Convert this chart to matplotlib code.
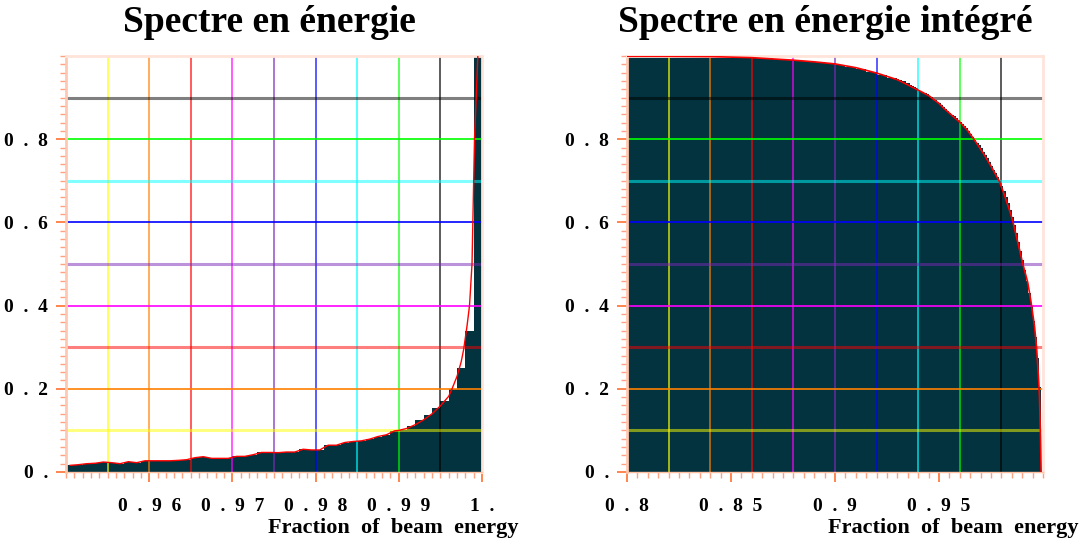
import numpy as np
import matplotlib.pyplot as plt
from matplotlib.ticker import MultipleLocator

plt.rcParams['font.family'] = ['Liberation Serif', 'DejaVu Serif']
plt.rcParams['font.weight'] = 'bold'

S = '\u2002'  # wide gap used between the characters of the tick labels

# ---- left panel : energy spectrum, bins of 0.001 from 0.95 to 1.0
left_edges = np.linspace(0.95, 1.0, 51)
left_values = [0.016, 0.0176, 0.020, 0.021, 0.024, 0.0224, 0.020, 0.0248, 0.0224, 0.027,
               0.027, 0.027, 0.027, 0.028, 0.0296, 0.0344, 0.0368, 0.0328, 0.0328, 0.0328,
               0.0376, 0.0376, 0.0416, 0.047, 0.047, 0.0465, 0.048, 0.048, 0.0547, 0.053,
               0.053, 0.0644, 0.0644, 0.0709, 0.0733, 0.0749, 0.079, 0.0853, 0.0894, 0.099,
               0.1014, 0.1095, 0.1256, 0.1369, 0.1546, 0.1715, 0.1997, 0.2512, 0.338, 2.0]
# smooth fit drawn in red near the peak
left_fit_x = [0.9895, 0.990, 0.991, 0.992, 0.993, 0.994, 0.995, 0.996, 0.9964, 0.997,
              0.9975, 0.9978, 0.9982, 0.9985, 0.9988, 0.9991, 0.9995]
left_fit_y = [0.099, 0.100, 0.105, 0.114, 0.1256, 0.140, 0.159, 0.182, 0.200, 0.230,
              0.265, 0.295, 0.351, 0.400, 0.500, 0.800, 1.000]
left_xticks = [0.96, 0.97, 0.98, 0.99, 1.0]
left_xlabels = ['0.96', '0.97', '0.98', '0.99', '1.']
left_grid_x = [0.955, 0.96, 0.965, 0.97, 0.975, 0.98, 0.985, 0.99, 0.995]

# ---- right panel : integrated spectrum
right_edges = np.concatenate([np.linspace(0.8, 0.93, 27), np.linspace(0.93, 1.0, 71)[1:]])
right_values = [0.9995, 0.9995, 0.9994, 0.9994, 0.9993, 0.9991, 0.9989, 0.9987, 0.9984, 0.9978,
                0.9972, 0.9966, 0.9955, 0.9940, 0.9925, 0.9910, 0.9890, 0.9870, 0.9848, 0.9822,
                0.9790, 0.9745, 0.9690, 0.9625, 0.9550, 0.9470,
                0.945, 0.943, 0.941, 0.939, 0.936, 0.934, 0.931, 0.928, 0.925, 0.922,
                0.919, 0.917, 0.914, 0.911, 0.908, 0.905, 0.901, 0.897, 0.894, 0.890,
                0.887, 0.882, 0.877, 0.872, 0.868, 0.863, 0.859, 0.855, 0.850, 0.846,
                0.842, 0.837, 0.831, 0.826, 0.820, 0.813, 0.806, 0.799, 0.792, 0.785,
                0.778, 0.770, 0.762, 0.754, 0.746, 0.736, 0.727, 0.718, 0.709, 0.700,
                0.688, 0.675, 0.661, 0.646, 0.630, 0.613, 0.594, 0.574, 0.553, 0.531,
                0.509, 0.486, 0.459, 0.431, 0.399, 0.364, 0.325, 0.273, 0.204, 0.0]
right_fit_x = [0.80, 0.82, 0.84, 0.86, 0.88, 0.89, 0.90, 0.91, 0.92, 0.93, 0.94, 0.945, 0.95,
               0.9524, 0.9572, 0.96, 0.9636, 0.9668, 0.9716, 0.9749, 0.9789, 0.9813, 0.9845,
               0.9856, 0.9877, 0.9887, 0.9901, 0.9927, 0.9943, 0.9959, 0.9969, 0.9978, 0.9983,
               0.9988, 0.9991]
right_fit_y = [0.9995, 0.9993, 0.9986, 0.996, 0.990, 0.986, 0.981, 0.972, 0.959, 0.943, 0.918,
               0.905, 0.886, 0.874, 0.853, 0.841, 0.822, 0.800, 0.764, 0.736, 0.700, 0.668,
               0.620, 0.600, 0.556, 0.535, 0.504, 0.455, 0.407, 0.351, 0.300, 0.230, 0.182,
               0.086, 0.0]
right_xticks = [0.8, 0.85, 0.9, 0.95]
right_xlabels = ['0.8', '0.85', '0.9', '0.95']
right_grid_x = [0.82, 0.84, 0.86, 0.88, 0.90, 0.92, 0.94, 0.96, 0.98]

yticks = [0, 0.2, 0.4, 0.6, 0.8]
ylabels = ['0.', '0.2', '0.4', '0.6', '0.8']
grid_y = [0.1, 0.2, 0.3, 0.4, 0.5, 0.6, 0.7, 0.8, 0.9]

grid_colors = ['#ffff00', '#ff8000', '#ff0000', '#ff00ff', '#7a28b8',
               '#0000ff', '#00ffff', '#00ff00', '#000000']
fill_color = '#02333f'


def spaced(label):
    return S.join(label)


fig = plt.figure(figsize=(10.81, 5.45), dpi=100)
ax1 = fig.add_axes([66 / 1081, 73 / 545, 416 / 1081, 416 / 545])
ax2 = fig.add_axes([627 / 1081, 73 / 545, 416 / 1081, 416 / 545])


def decorate(ax, gx, xlim, xticks, xlabels, xminor):
    ax.set_xlim(*xlim)
    ax.set_ylim(0, 1.0)
    for i, g in enumerate(gx):
        ax.axvline(g, color=grid_colors[i], lw=1.2, alpha=0.75, zorder=2)
    for i, g in enumerate(grid_y):
        if i % 2 == 0:
            ax.axhline(g, color=grid_colors[i], lw=2.2, alpha=0.5, zorder=2)
        else:
            ax.axhline(g, color=grid_colors[i], lw=1.2, zorder=2)
    ax.set_xticks(xticks, labels=[spaced(t) for t in xlabels])
    ax.set_yticks(yticks, labels=[spaced(t) for t in ylabels])
    ax.xaxis.set_minor_locator(MultipleLocator(xminor))
    ax.yaxis.set_minor_locator(MultipleLocator(0.02))
    ax.tick_params(which='major', direction='out', length=7, width=1.2,
                   color='#ff7030', labelsize=14)
    ax.tick_params(which='minor', direction='out', length=4, width=1,
                   color='#ffa080')
    ax.tick_params(axis='x', which='major', pad=12)
    ax.tick_params(axis='y', which='major', pad=6)
    for s in ['top', 'right']:
        ax.spines[s].set_color('#ffe4da')
        ax.spines[s].set_linewidth(2)
    ax.spines['left'].set_color('#ffc8b0')
    ax.spines['left'].set_linewidth(2)
    ax.spines['bottom'].set_color('#ffc0a0')
    ax.spines['bottom'].set_linewidth(1)


# left panel
ax1.stairs(left_values, left_edges, fill=True, color=fill_color, zorder=1)
decorate(ax1, left_grid_x, (0.95, 1.0), left_xticks, left_xlabels, 0.001)
centres = left_edges[:-1] + 0.0005
lv = np.array(left_values)
mask = centres < 0.9895
ax1.plot(np.concatenate([centres[mask], left_fit_x]),
         np.concatenate([lv[mask], left_fit_y]), color='red', lw=1, zorder=3)

# right panel
ax2.stairs(right_values, right_edges, fill=True, color=fill_color, zorder=1)
decorate(ax2, right_grid_x, (0.8, 1.0), right_xticks, right_xlabels, 0.005)
ax2.plot(right_fit_x, right_fit_y, color='red', lw=1.2, zorder=3)

fig.text(269 / 1081, 1 - 22 / 545, 'Spectre en énergie', ha='center', va='center', fontsize=27)
fig.text(825 / 1081, 1 - 22 / 545, 'Spectre en énergie intégré', ha='center', va='center',
         fontsize=27)
fig.text(519 / 1081, 1 - 528 / 545, 'Fraction  of  beam  energy', ha='right', va='center',
         fontsize=16)
fig.text(1078 / 1081, 1 - 528 / 545, 'Fraction  of  beam  energy', ha='right', va='center',
         fontsize=16)

fig.savefig('out.png', dpi=100)
